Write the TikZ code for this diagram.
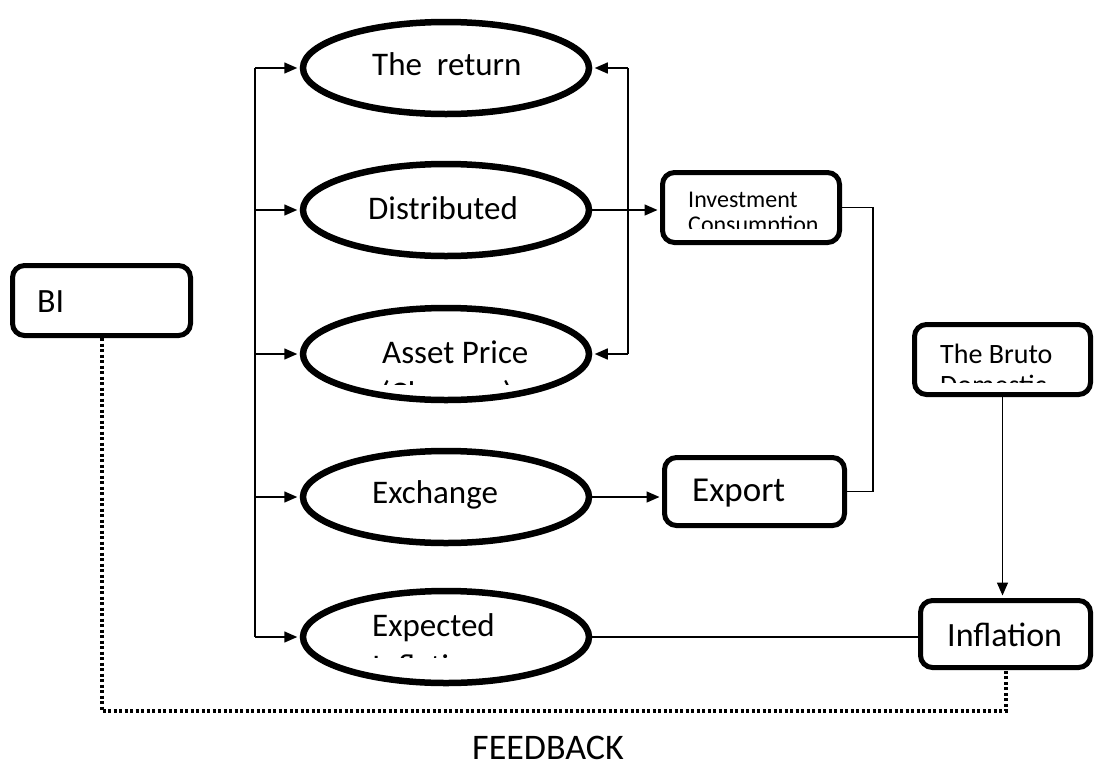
\documentclass[tikz,border=0pt]{standalone}
\usepackage{fontspec}
\setmainfont{Carlito}
\usetikzlibrary{shapes.geometric,arrows.meta}

\begin{document}
\begin{tikzpicture}[x=1pt,y=-1pt,
  chan/.style={ellipse,draw,line width=6.5pt,fill=white,minimum width=286pt,minimum height=92pt,inner sep=0pt},
  box/.style={draw,line width=5pt,rounded corners=12pt,fill=white,inner sep=0pt},
  lbl/.style={anchor=base west,inner sep=0pt,font=\fontsize{33}{40}\selectfont},
  arr/.style={line width=1.5pt,shorten >=2.5pt,-{Triangle[length=13pt,width=11pt]}},
  link/.style={line width=1.5pt},
  fb/.style={line width=4pt,dash pattern=on 3pt off 2.5pt}]
\useasboundingbox (0,0) rectangle (1095,769);

% Channels
\node[chan] (ret) at (446,68) {};
\node[chan] (dist) at (446,210) {};
\node[chan] (asset) at (446,354) {};
\node[chan] (exch) at (446,497) {};
\node[chan] (expt) at (446,637) {};

% Boxes
\node[box,minimum width=178pt,minimum height=70pt] (bi) at (101.5,300.5) {};
\node[box,minimum width=177pt,minimum height=70pt] (inv) at (751,207.5) {};
\node[box,minimum width=180pt,minimum height=68pt] (exp) at (754.5,491.5) {};
\node[box,minimum width=176pt,minimum height=70pt] (gdp) at (1002.5,359.5) {};
\node[box,minimum width=170pt,minimum height=67pt] (infl) at (1005.5,634) {};

% Labels
\node[lbl] (retT) at (372,75) {The\ \ return};
\node[lbl] (distT) at (368,219) {Distributed};
\node[lbl] (assetT) at (382,363) {Asset Price};
\node[lbl] (exchT) at (372,503) {Exchange};
\node[lbl] (exptT) at (372,636) {Expected};
\node[lbl,font=\fontsize{34}{40}\selectfont] (biT) at (37,312) {BI};
\node[lbl,font=\fontsize{24}{29}\selectfont] (invT) at (688,207) {Investment};
\node[lbl,font=\fontsize{35}{42}\selectfont] (expT) at (692,501) {Export};
\node[lbl,font=\fontsize{28}{34}\selectfont] (gdpT) at (940,363) {The Bruto};
\node[lbl,font=\fontsize{34}{40}\selectfont] (inflT) at (947,646) {Inflation};
\node[anchor=base,inner sep=0pt,font=\fontsize{36}{43}\selectfont] (fbT) at (548,759) {FEEDBACK};

% Second lines, cut off
\begin{scope}
\clip (300,330) rectangle (600,384);
\node[lbl] (assetT2) at (380,404) {(Changes)};
\end{scope}
\begin{scope}
\clip (300,600) rectangle (600,657);
\node[lbl] (exptT2) at (372,677) {Inflation};
\end{scope}
\begin{scope}
\clip (665,175) rectangle (840,228);
\node[lbl,font=\fontsize{24}{29}\selectfont] (invT2) at (688,232) {Consumption};
\end{scope}
\begin{scope}
\clip (915,325) rectangle (1090,382);
\node[lbl,font=\fontsize{28}{34}\selectfont] (gdpT2) at (940,394) {Domestic};
\end{scope}

% Left trunk
\coordinate (ttop) at (255,68);
\coordinate (tbot) at (255,637);
\draw[link] (ttop) -- (tbot);
\foreach \e in {ret,dist,asset,exch,expt}
  \draw[arr] (\e.west -| ttop) -- (\e.west);

% Right bracket
\coordinate (rtop) at (628,68);
\coordinate (rbot) at (628,354);
\draw[link] (rtop) -- (rbot);
\draw[arr] (rtop) -- (ret.east);
\draw[arr] (rbot) -- (asset.east);

% Links to the boxes
\draw[arr] (dist.east) -- (dist.east -| inv.west);
\draw[arr] (exch.east) -- (exch.east -| exp.west);
\coordinate (jn) at (873,0);
\draw[link] (inv.east) -- (inv.east -| jn) -- (exp.east -| jn) -- (exp.east);
\draw[arr] (gdp.south) -- (gdp.south |- infl.north);
\draw[link] (expt.east) -- (expt.east -| infl.west);

% Feedback
\coordinate (fbase) at (0,711);
\draw[fb] (bi.south) -- (bi.south |- fbase) -- (infl.south |- fbase) -- (infl.south);
\end{tikzpicture}
\end{document}
